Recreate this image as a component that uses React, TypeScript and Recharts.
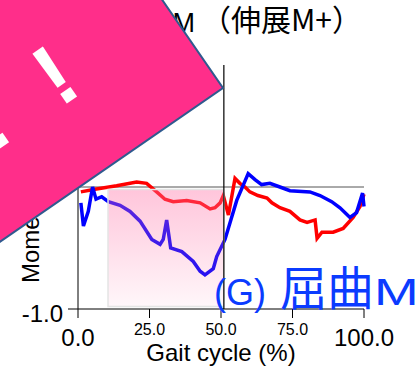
import { LineChart, Line, XAxis, YAxis, ReferenceLine, ReferenceArea } from "recharts";

const cycleTicks = [0, 25, 50, 75, 100];
const momentTicks = [-1, 0, 1];

// red trace
const redCycle = [1, 5.4, 13.5, 20.5, 24, 27.5, 30.4, 33.3, 38, 42.7, 46.2, 47.9, 49.7, 50.8, 52.6, 54.9, 56.6, 58.4, 60.1, 62.9, 66.1, 67.8, 70.6, 74.1, 77.6, 80.1, 82.9, 83.6, 85.3, 89.2, 92.7, 96.2, 98.6, 100];
const redMoment = [-0.04, -0.02, 0.01, 0.04, 0.03, -0.04, -0.1, -0.12, -0.11, -0.13, -0.18, -0.17, -0.13, -0.07, -0.23, 0.07, 0.03, 0, -0.04, -0.07, -0.09, -0.13, -0.17, -0.2, -0.27, -0.29, -0.27, -0.42, -0.37, -0.37, -0.34, -0.25, -0.16, -0.06];

// blue trace
const blueCycle = [1, 1.9, 3.6, 5.1, 6.3, 8.3, 10.6, 14.7, 18.2, 21.7, 25.8, 28.7, 29.8, 31, 32.4, 36.3, 40.3, 42.7, 44.4, 47.3, 48.5, 51.4, 55.5, 59.5, 61.9, 64.2, 67.1, 70.6, 74.1, 81.1, 84.6, 88.7, 91.6, 95.1, 97.4, 99.5, 100];
const blueMoment = [-0.13, -0.32, -0.2, 0, -0.1, -0.08, -0.12, -0.15, -0.2, -0.28, -0.43, -0.47, -0.43, -0.27, -0.5, -0.53, -0.61, -0.69, -0.72, -0.67, -0.57, -0.43, -0.11, 0.11, 0.06, 0.02, 0.03, 0, -0.03, -0.04, -0.07, -0.12, -0.17, -0.25, -0.21, -0.05, -0.16];

const redData = redCycle.map((c, i) => ({ cycle: c, moment: redMoment[i] }));
const blueData = blueCycle.map((c, i) => ({ cycle: c, moment: blueMoment[i] }));

const latin = "'Liberation Sans', Arial, sans-serif";
const cjk = "'Noto Sans CJK JP', sans-serif";

const XTick = ({ x, y, payload }: any) => {
  const big = payload.value === 0 || payload.value === 100;
  return (
    <text x={x} y={y + (big ? 28 : 17)} textAnchor="middle" fontSize={big ? 24 : 16} fill="#000" fontFamily={latin}>
      {payload.value.toFixed(1)}
    </text>
  );
};

const YTick = ({ x, y, payload }: any) => (
  <text x={x - 5} y={y + 13} textAnchor="end" fontSize={24} fill="#000" fontFamily={latin}>
    {payload.value.toFixed(1)}
  </text>
);

const layer = { position: "absolute" as const, left: 0, top: 0 };

export default function App() {
  return (
    <div style={{ position: "fixed", left: 0, top: 0, width: 416, height: 371, background: "#fff" }}>
      <LineChart width={416} height={371} margin={{ top: 65, right: 52, bottom: 32, left: 18 }} style={layer}>
        <XAxis
          type="number"
          dataKey="cycle"
          domain={[0, 100]}
          ticks={cycleTicks}
          tick={<XTick />}
          tickSize={9}
          tickMargin={0}
          height={30}
          axisLine={{ stroke: "#000" }}
          tickLine={{ stroke: "#000" }}
          allowDuplicatedCategory={false}
        />
        <YAxis
          type="number"
          domain={[-1, 1]}
          ticks={momentTicks}
          tick={<YTick />}
          tickSize={10}
          tickMargin={0}
          width={60}
          axisLine={{ stroke: "#000" }}
          tickLine={{ stroke: "#000" }}
        />
        <ReferenceLine y={0} stroke="#555" strokeWidth={1} />
        <Line data={redData} dataKey="moment" stroke="#ff0000" strokeWidth={3.5} dot={false} isAnimationActive={false} />
        <Line data={blueData} dataKey="moment" stroke="#0000ff" strokeWidth={3.5} dot={false} isAnimationActive={false} />
      </LineChart>

      {/* stance shading sits above the traces */}
      <LineChart width={416} height={371} margin={{ top: 65, right: 52, bottom: 62, left: 78 }} style={layer}>
        <XAxis type="number" dataKey="cycle" domain={[0, 100]} hide allowDuplicatedCategory={false} />
        <YAxis type="number" domain={[-1, 1]} hide />
        <Line data={blueData} dataKey="moment" stroke="none" strokeOpacity={0} dot={false} isAnimationActive={false} />
        <ReferenceArea x1={10.5} x2={51} y1={-0.98} y2={-0.02} fill="url(#stance)" fillOpacity={1} stroke="#e4e4e4" strokeWidth={1.5} />
        <ReferenceLine x={51} stroke="#000" strokeWidth={1.2} />
      </LineChart>

      <svg width={416} height={371} style={{ ...layer, pointerEvents: "none" }}>
        <defs>
          <linearGradient id="stance" x1="0" y1="0" x2="0" y2="1">
            <stop offset="0%" stopColor="#ff6fa5" stopOpacity={0.4} />
            <stop offset="100%" stopColor="#ff6fa5" stopOpacity={0.06} />
          </linearGradient>
        </defs>
        <text x={195} y={32} textAnchor="end" fontSize={27} fontFamily={latin} fill="#000">M</text>
        <text x={201} y={31} fontSize={30} fontFamily={cjk} fill="#000">（伸展M+）</text>
        <text transform="translate(39,283) rotate(-90)" fontSize={24} fontFamily={latin} fill="#000">
          Moment (Nm/kg)
        </text>
        <text x={221} y={361} textAnchor="middle" fontSize={24} fontFamily={latin} fill="#000">
          Gait cycle (%)
        </text>
        <text y={305} fill="#0b3bff">
          <tspan x={214} fontSize={36} fontFamily={latin}>(G)</tspan>
          <tspan x={280} fontSize={47} fontFamily={cjk}>屈曲</tspan>
        </text>
        <text transform="translate(374,305) scale(1.45,1)" fontSize={37} fontFamily={latin} fill="#0b3bff">M</text>
        <g transform="translate(223,88) rotate(-34.6)">
          <rect x={-420} y={-420} width={420} height={420} fill="#ff2e8a" stroke="#2f5a8f" strokeWidth={2} />
          <text x={-131} y={-76} textAnchor="middle" fontSize={88} fontWeight="bold" fontFamily={latin} fill="#fff">!</text>
          <text x={-213} y={-77} textAnchor="middle" fontSize={88} fontWeight="bold" fontFamily={latin} fill="#fff">!</text>
        </g>
      </svg>
    </div>
  );
}
